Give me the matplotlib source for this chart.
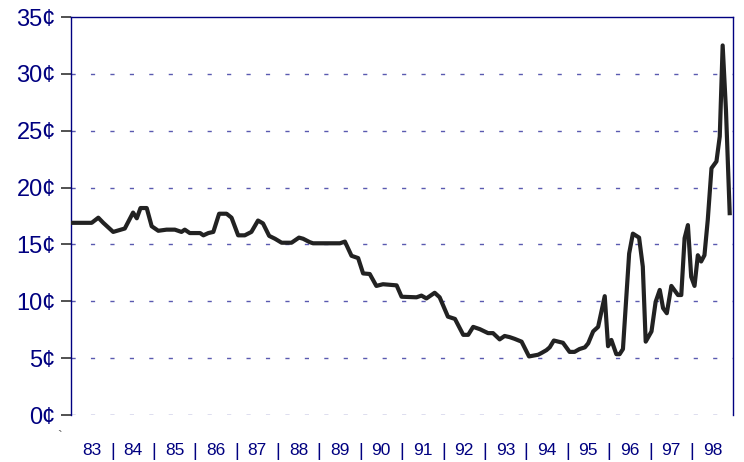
import matplotlib
matplotlib.use('Agg')
import matplotlib.pyplot as plt
import numpy as np

plt.rcParams['font.family'] = ['Liberation Sans', 'DejaVu Sans']

# price in cents (decimal year, cents)
years = [1983.00, 1983.50, 1983.66, 1983.78, 1984.02, 1984.30, 1984.50, 1984.59, 1984.68, 1984.83,
         1984.95, 1985.11, 1985.31, 1985.51, 1985.67, 1985.75, 1985.87, 1986.12, 1986.20, 1986.32,
         1986.44, 1986.58, 1986.76, 1986.88, 1987.04, 1987.20, 1987.36, 1987.52, 1987.64, 1987.79,
         1987.93, 1988.09, 1988.33, 1988.51, 1988.61, 1988.77, 1988.85, 1989.50, 1989.62, 1989.78,
         1989.94, 1990.06, 1990.22, 1990.38, 1990.54, 1990.87, 1990.99, 1991.35, 1991.47, 1991.59,
         1991.79, 1991.91, 1992.11, 1992.28, 1992.48, 1992.60, 1992.72, 1992.88, 1993.08, 1993.20,
         1993.36, 1993.48, 1993.60, 1993.72, 1993.89, 1994.07, 1994.29, 1994.37, 1994.49, 1994.57,
         1994.67, 1994.89, 1995.05, 1995.17, 1995.29, 1995.42, 1995.50, 1995.62, 1995.74, 1995.90,
         1995.98, 1996.06, 1996.18, 1996.26, 1996.34, 1996.49, 1996.58, 1996.73, 1996.82, 1996.89,
         1997.03, 1997.13, 1997.23, 1997.31, 1997.40, 1997.51, 1997.67, 1997.75, 1997.83, 1997.91,
         1997.99, 1998.07, 1998.15, 1998.23, 1998.31, 1998.39, 1998.48, 1998.60, 1998.68, 1998.75,
         1998.83, 1998.92]
cents = [16.9, 16.9, 17.35, 16.9, 16.1, 16.4, 17.8, 17.3, 18.2, 18.2,
         16.6, 16.2, 16.3, 16.3, 16.1, 16.3, 16.0, 16.0, 15.8, 16.0,
         16.1, 17.7, 17.7, 17.35, 15.8, 15.8, 16.1, 17.1, 16.85, 15.75,
         15.5, 15.15, 15.15, 15.6, 15.5, 15.2, 15.1, 15.1, 15.25, 14.0,
         13.8, 12.45, 12.4, 11.35, 11.5, 11.4, 10.4, 10.35, 10.5, 10.25,
         10.75, 10.35, 8.65, 8.45, 7.05, 7.05, 7.75, 7.55, 7.2, 7.2,
         6.65, 6.95, 6.85, 6.7, 6.45, 5.15, 5.3, 5.45, 5.7, 5.95,
         6.55, 6.35, 5.55, 5.55, 5.8, 5.95, 6.3, 7.35, 7.75, 10.45,
         6.05, 6.6, 5.35, 5.35, 5.8, 14.2, 15.95, 15.6, 13.05, 6.45,
         7.35, 9.95, 11.0, 9.4, 8.95, 11.35, 10.55, 10.55, 15.55, 16.7,
         12.15, 11.35, 14.05, 13.5, 14.05, 17.15, 21.7, 22.3, 24.5, 32.5,
         26.8, 17.75]

year_labels = ['83', '84', '85', '86', '87', '88', '89', '90', '91', '92',
               '93', '94', '95', '96', '97', '98']
y_ticks = [0, 5, 10, 15, 20, 25, 30, 35]

navy = '#000080'

fig = plt.figure(figsize=(7.44, 4.62), dpi=100)
ax = fig.add_axes([71/744, 47/462, 662/744, 398/462])

for v in y_ticks[:-1]:
    ax.axhline(v, color='#5a5ab0', lw=1.0, ls=(0, (3, 11)), zorder=1)

ax.plot(years, cents, color='#222222', lw=3.0, solid_joinstyle='round', zorder=3)

ax.set_xlim(1983, 1999)
ax.set_ylim(0, 35)

ax.set_yticks(y_ticks)
ax.set_yticklabels([f'{v}¢' for v in y_ticks], color=navy, fontsize=17)
ax.tick_params(axis='y', length=7, width=1.2, color='#333333', pad=4)

centers = np.arange(1983, 1999) + 0.5
ax.set_xticks(centers)
ax.set_xticklabels(year_labels, color=navy, fontsize=12.5)
ax.set_xticks(np.arange(1984, 1999), minor=True)
ax.set_xticklabels(['|'] * 15, minor=True, color=navy, fontsize=13)
ax.tick_params(axis='x', which='both', length=0, pad=20)

ax.spines['bottom'].set_visible(False)
for s in ['left', 'right', 'top']:
    ax.spines[s].set_color(navy)
    ax.spines[s].set_linewidth(1.0)

fig.text(60/744, 1 - 437/462, '`', color='#555555', fontsize=10, ha='center', va='center')

fig.savefig('out.png', dpi=100)
